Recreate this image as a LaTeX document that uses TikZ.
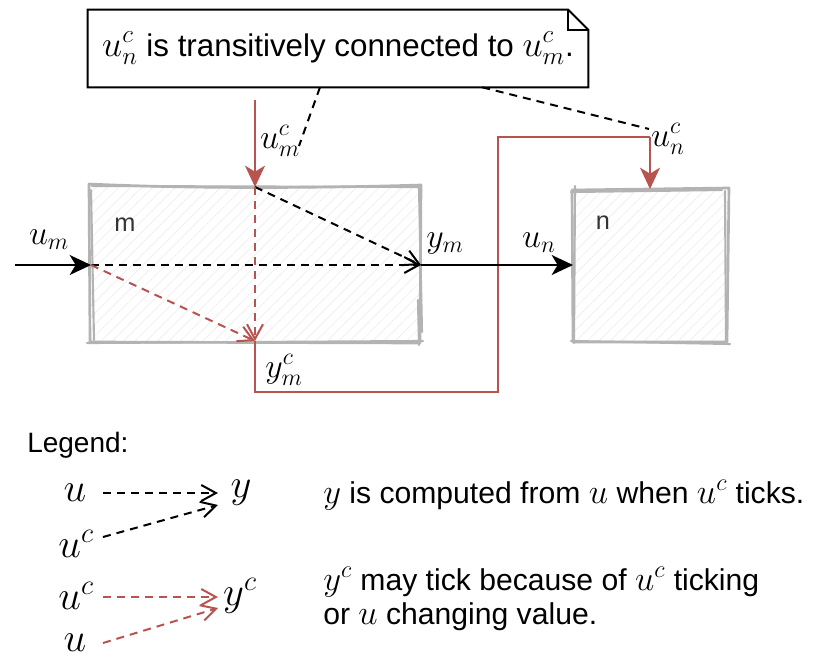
\RequirePackage{fix-cm}
\documentclass[tikz,border=0pt]{standalone}
\usepackage{fontspec}
\setmainfont{Liberation Sans}
\usetikzlibrary{arrows.meta,patterns.meta,calc}

\definecolor{linkred}{HTML}{B85450}
\definecolor{boxgrey}{HTML}{B3B3B3}
\definecolor{hatchgrey}{HTML}{EEEEEE}
\definecolor{labelgrey}{HTML}{333333}

% math set a little larger than the surrounding text
\newcommand{\mx}[1]{\scalebox{1.15}{$#1$}}

\tikzset{
  solidtip/.style={-{Stealth[length=16pt,width=15pt,inset=4.5pt]}},
  opentip/.style={-{Straight Barb[length=11pt,width=12pt,line width=1.5pt]}},
  flow/.style={line width=1.5pt, solidtip},
  clockflow/.style={line width=1.5pt, draw=linkred, fill=linkred, solidtip},
  clockwire/.style={line width=1.5pt, draw=linkred},
  depend/.style={line width=1.5pt, dash pattern=on 6pt off 4.5pt, opentip},
  clockdepend/.style={depend, draw=linkred},
  callout/.style={line width=1.5pt, dash pattern=on 6pt off 4.5pt},
  sketch/.style={draw=boxgrey, line width=2pt, line cap=round, line join=round},
  hatched/.style={pattern={Lines[angle=45,distance=6pt,line width=0.5pt]}, pattern color=hatchgrey},
  lbl/.style={inner sep=0pt, font=\fontsize{25.5}{30}\selectfont},
  boxname/.style={inner sep=0pt, text=labelgrey, font=\fontsize{19}{23}\selectfont},
  legsym/.style={inner sep=0pt, font=\fontsize{30.5}{36}\selectfont},
  legtext/.style={inner sep=0pt, anchor=base west, align=left, font=\fontsize{22.6}{27}\selectfont},
}

\begin{document}
\begin{tikzpicture}[x=0.75pt,y=-0.75pt]
\useasboundingbox (0,0) rectangle (815,657);

% ---- block m (hand-drawn look: two passes) ----
\fill[white] (90,185) rectangle (421,342);
\fill[hatched] (90,185) rectangle (421,342);
\draw[sketch] (89,184) .. controls (200,189) and (320,188) .. (421,185)
  -- (420,343) -- (90,342) -- cycle;
\draw[sketch, line width=1.6pt] (92,186) -- (419,187) -- (422,332)
  (419,345) -- (418,300) (87,343) -- (423,341) (94,340) -- (91,190);

% ---- block n ----
\fill[white] (573,190) rectangle (728,342);
\fill[hatched] (573,190) rectangle (728,342);
\draw[sketch] (572,190) -- (729,188) -- (727,342) -- (573,342) -- cycle;
\draw[sketch, line width=1.6pt] (575,186) -- (574,343) (571,341) -- (730,344)
  (725,191) -- (726,340) (571,192) -- (722,190);

\node[boxname] (mname) at (125,225) {m};
\node[boxname] (nname) at (603,223) {n};

% ---- ports ----
\coordinate (uin)  at (15,265);
\coordinate (mL)   at (91,265);
\coordinate (mR)   at (421,265);
\coordinate (mT)   at (255,187);
\coordinate (mB)   at (255,341);
\coordinate (mcIn) at (255,100);
\coordinate (nL)   at (573,265);
\coordinate (nT)   at (650,189);
\coordinate (w1)   at (255,392);
\coordinate (w2)   at (498,392);
\coordinate (w3)   at (498,137);
\coordinate (w4)   at (650,137);

% ---- internal dependencies of m ----
\draw[depend] (mL) -- (mR);
\draw[depend] (mT) -- (mR);
\draw[clockdepend] (mT) -- (mB);
\draw[clockdepend] (mL) -- (mB);

% ---- clock wiring ----
\draw[clockwire] (mB) -- (w1) -- (w2) -- (w3) -- (w4);
\draw[clockflow] (w4) -- (nT);
\draw[clockflow] (mcIn) -- (mT);

% ---- value wiring ----
\draw[flow] (uin) -- (mL);
\draw[flow] (mR) -- (nL);

% ---- port labels ----
\node[lbl] (lum)  at (49,240)  {$u_m$};
\node[lbl] (lumc) at (280,141) {$u_m^c$};
\node[lbl] (lym)  at (445,243) {$y_m$};
\node[lbl] (lun)  at (539,243) {$u_n$};
\node[lbl] (lunc) at (668,139) {$u_n^c$};
\node[lbl] (lymc) at (284,370) {$y_m^c$};

% ---- note with folded corner ----
\node[minimum width=375pt, minimum height=57.75pt, inner sep=0pt,
      font=\fontsize{23.5}{28}\selectfont] (note) at (338,48.5)
  {\mx{u_n^c} is transitively connected to \mx{u_m^c}.};
\draw[line width=1.5pt, line join=miter]
  (note.south west) -- (note.north west) -- ($(note.north east)+(-15pt,0)$)
  -- ($(note.north east)+(0,-15pt)$) -- (note.south east) -- cycle;
\draw[line width=1.5pt, line join=miter]
  ($(note.north east)+(-15pt,0)$) -- ($(note.north east)+(-15pt,-15pt)$)
  -- ($(note.north east)+(0,-15pt)$);
\coordinate (noteA) at ($(note.south west)!0.464!(note.south east)$);
\coordinate (noteB) at ($(note.south west)!0.788!(note.south east)$);
\coordinate (calA) at (299,146);
\coordinate (calB) at (649,129);
\draw[callout] (noteA) -- (calA);
\draw[callout] (noteB) -- (calB);

% ---- legend ----
\node[anchor=west, inner sep=0pt, font=\fontsize{21}{25}\selectfont] (legend) at (27,445) {Legend:};

\node[legsym] (a1) at (75,493) {$u$};
\node[legsym] (a2) at (241,493) {$y$};
\node[legsym] (a3) at (76,544) {$u^c$};
\node[legsym] (b1) at (76,596) {$u^c$};
\node[legsym] (b2) at (240,596) {$y^c$};
\node[legsym] (b3) at (75,643) {$u$};

\coordinate (a2in) at (218,493);
\coordinate (a2lo) at (218,505);
\coordinate (b2in) at (218,597);
\coordinate (b2lo) at (218,608);
\draw[depend] (103,493) coordinate (a1out) -- (a2in);
\draw[depend] (103,537) coordinate (a3out) -- (a2lo);
\draw[clockdepend] (103,597) coordinate (b1out) -- (b2in);
\draw[clockdepend] (103,643) coordinate (b3out) -- (b2lo);

\node[legtext] (t1) at (323,503) {\mx{y} is computed from \mx{u} when \mx{u^c} ticks.};
\node[legtext] (t2) at (323,590) {\mx{y^c} may tick because of \mx{u^c} ticking};
\node[legtext] (t3) at (323,624) {or \mx{u} changing value.};
\end{tikzpicture}
\end{document}
